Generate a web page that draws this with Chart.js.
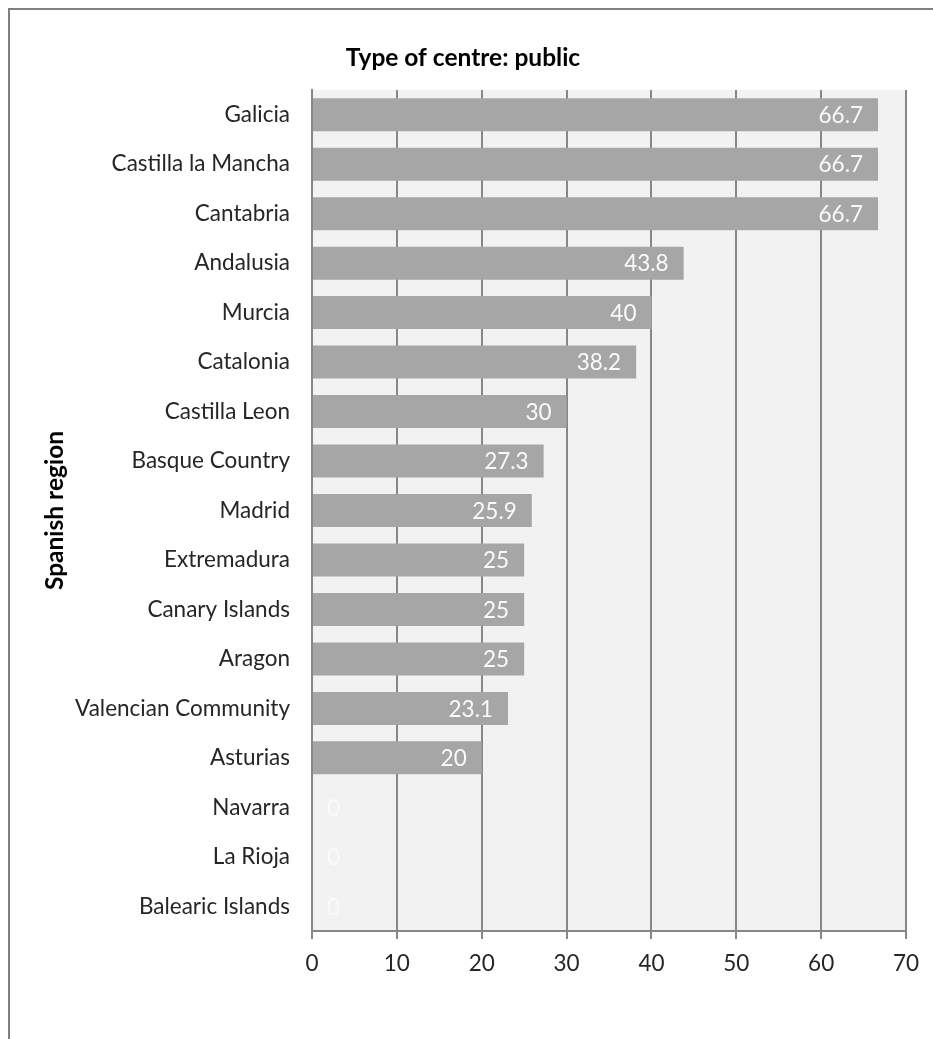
<!DOCTYPE html>
<html>
<head>
<meta charset="utf-8">
<script src="https://cdn.jsdelivr.net/npm/chart.js@4"></script>
<style>
    html, body { margin: 0; padding: 0; background: #fff; }
    #frame {
        position: absolute; left: 8px; top: 8px; right: 0; bottom: 0;
        border-left: 2px solid #808080; border-top: 2px solid #808080;
    }
    #publicChart { position: absolute; left: 0; top: 0; }
</style>
</head>
<body>
<div id="frame"></div>
<canvas id="publicChart" width="933" height="1039"></canvas>
<script>
const regions = ['Galicia', 'Castilla la Mancha', 'Cantabria', 'Andalusia', 'Murcia', 'Catalonia',
    'Castilla Leon', 'Basque Country', 'Madrid', 'Extremadura', 'Canary Islands', 'Aragon',
    'Valencian Community', 'Asturias', 'Navarra', 'La Rioja', 'Balearic Islands'];
const publicPct = [66.7, 66.7, 66.7, 43.8, 40, 38.2, 30, 27.3, 25.9, 25, 25, 25, 23.1, 20, 0, 0, 0];
const xTicks = [0, 10, 20, 30, 40, 50, 60, 70];

const FONT = 'Lato, "Open Sans", sans-serif';
const GRID = '#878787';

// grey plot background
const plotBg = {
    id: 'plotBg',
    beforeDraw(chart) {
        const {ctx, chartArea: a} = chart;
        ctx.save();
        ctx.fillStyle = '#F2F2F2';
        ctx.fillRect(a.left, a.top, a.right - a.left, a.bottom - a.top);
        ctx.restore();
    }
};

// value labels at the inner end of each bar
const barValues = {
    id: 'barValues',
    afterDatasetsDraw(chart) {
        const ctx = chart.ctx;
        const meta = chart.getDatasetMeta(0);
        ctx.save();
        ctx.font = '22.5px ' + FONT;
        ctx.fillStyle = '#FAFAFA';
        ctx.textBaseline = 'middle';
        meta.data.forEach((bar, i) => {
            const txt = String(publicPct[i]);
            const w = ctx.measureText(txt).width;
            let x = bar.x - 15;
            if (x - w < bar.base + 15) {
                ctx.textAlign = 'left';
                x = bar.base + 15;
            } else {
                ctx.textAlign = 'right';
            }
            ctx.fillText(txt, x, bar.y + 1);
        });
        ctx.restore();
    }
};

new Chart(document.getElementById('publicChart'), {
    type: 'bar',
    data: {
        labels: regions,
        datasets: [{
            data: publicPct,
            backgroundColor: '#A6A6A6',
            barPercentage: 0.667,
            categoryPercentage: 1
        }]
    },
    options: {
        indexAxis: 'y',
        responsive: false,
        animation: false,
        events: [],
        layout: {padding: {left: 20, right: 27, top: 0, bottom: 0}},
        plugins: {
            legend: {display: false},
            tooltip: {enabled: false},
            title: {
                display: true,
                text: 'Type of centre: public',
                color: '#000',
                font: {family: FONT, size: 24.5, weight: 'bold'},
                padding: {top: 43, bottom: 17.6}
            }
        },
        scales: {
            x: {
                min: 0,
                max: 70,
                afterBuildTicks: (scale) => { scale.ticks = xTicks.map(v => ({value: v})); },
                afterFit: (scale) => { scale.height = 108; },
                grid: {color: GRID, lineWidth: 2, tickLength: 8, drawTicks: true},
                border: {display: true, color: GRID, width: 2},
                ticks: {color: '#262626', font: {family: FONT, size: 22.5}, padding: 11, maxRotation: 0}
            },
            y: {
                afterFit: (scale) => { scale.width = 292; },
                grid: {display: false},
                border: {display: true, color: GRID, width: 2},
                ticks: {color: '#262626', font: {family: FONT, size: 22.5}, padding: 14, autoSkip: false},
                title: {
                    display: true,
                    text: 'Spanish region',
                    color: '#000',
                    font: {family: FONT, size: 24.5, weight: 'bold'},
                    padding: {top: 20, bottom: 0}
                }
            }
        }
    },
    plugins: [plotBg, barValues]
});
</script>
</body>
</html>
